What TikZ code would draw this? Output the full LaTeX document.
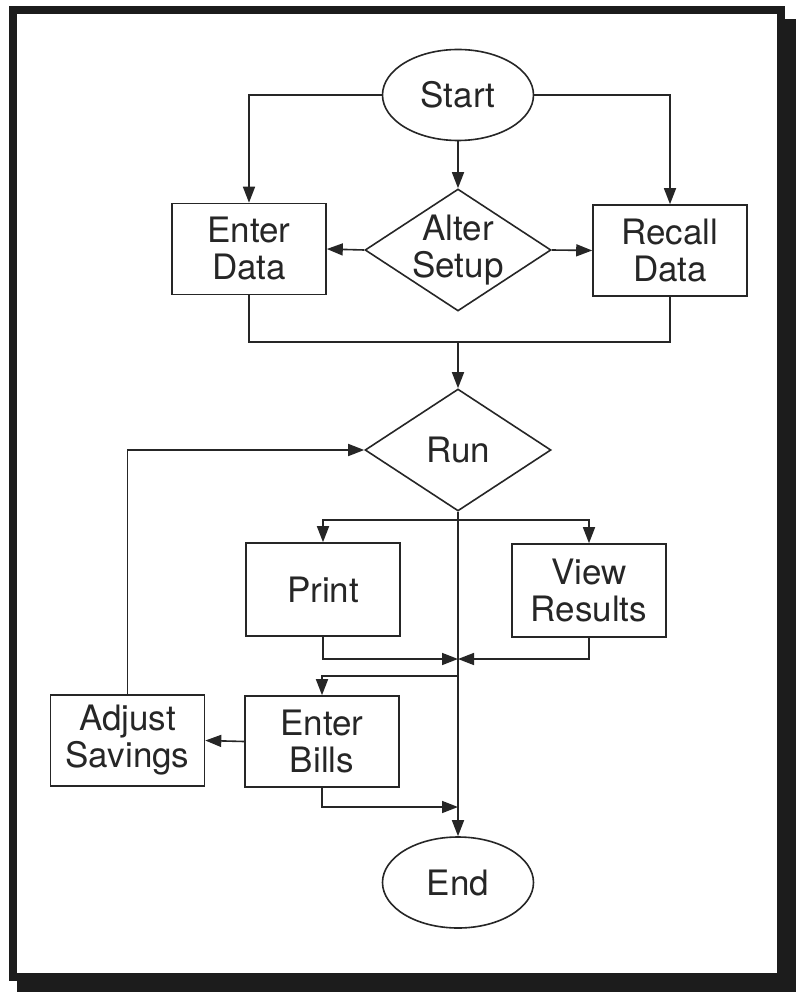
\documentclass[tikz,border=0pt]{standalone}
\usepackage{fontspec}
\setmainfont{TeX Gyre Heros}
\usetikzlibrary{shapes.geometric,arrows.meta}
\definecolor{ink}{HTML}{262626}
\definecolor{framec}{HTML}{1C1C1C}
\begin{document}
\begin{tikzpicture}[x=1pt,y=-1pt,
  lbl/.style={font=\fontsize{35}{37}\selectfont, text=ink, align=center},
  box/.style={lbl, draw=ink, line width=1.6pt, rectangle, minimum width=154pt, minimum height=91pt, inner sep=0pt},
  term/.style={lbl, draw=ink, line width=1.6pt, ellipse, minimum width=151pt, minimum height=91pt, inner sep=0pt},
  dec/.style={draw=ink, line width=1.6pt, diamond, inner sep=0pt, minimum width=186pt, minimum height=122pt},
  conn/.style={draw=ink, line width=1.6pt},
  arr/.style={conn, -{Triangle[length=16pt,width=12pt]}}
]
\useasboundingbox (0,0) rectangle (800,992);
% frame with shadow
\fill[framec] (17,19) rectangle (796,992);
\filldraw[fill=white, draw=framec, line width=8pt] (13,10) rectangle (781,977);

% nodes
\node[term] (start) at (458,95) {Start};
\node[box] (ed) at (249,249) {Enter\\Data};
\node[dec, label={[lbl]center:Alter\\Setup}] (as) at (458,250) {};
\node[box] (rd) at (670,250.5) {Recall\\Data};
\node[dec, label={[lbl]center:Run}] (run) at (458,450) {};
\node[box, minimum height=93pt] (pr) at (323,589.5) {Print};
\node[box, minimum height=93pt] (vr) at (589,590.5) {View\\Results};
\node[box] (eb) at (322,741.5) {Enter\\Bills};
\node[box] (adj) at (127.5,740.5) {Adjust\\Savings};
\node[term] (end) at (458,882.5) {End};

% helper coordinates
\coordinate (m) at (458,342);
\coordinate (b) at (458,520);
\coordinate (j1) at (458,659);
\coordinate (j2) at (458,676);
\coordinate (j3) at (458,807);

% connectors
\draw[arr] (start.west) -| (ed.north);
\draw[arr] (start.east) -| (rd.north);
\draw[arr] (start.south) -- (as.north);
\draw[arr] (as.west) -- (ed.east);
\draw[arr] (as.east) -- (rd.west);
\draw[conn] (ed.south) |- (m) -| (rd.south);
\draw[arr] (m) -- (run.north);
\draw[arr] (adj.north) |- (run.west);
\draw[arr] (b) -| (pr.north);
\draw[arr] (b) -| (vr.north);
\draw[arr] (run.south) -- (end.north);
\draw[arr] (pr.south) |- (j1);
\draw[arr] (vr.south) |- (j1);
\draw[arr] (j2) -| (eb.north);
\draw[arr] (eb.west) -- (adj.east);
\draw[arr] (eb.south) |- (j3);
\end{tikzpicture}
\end{document}
